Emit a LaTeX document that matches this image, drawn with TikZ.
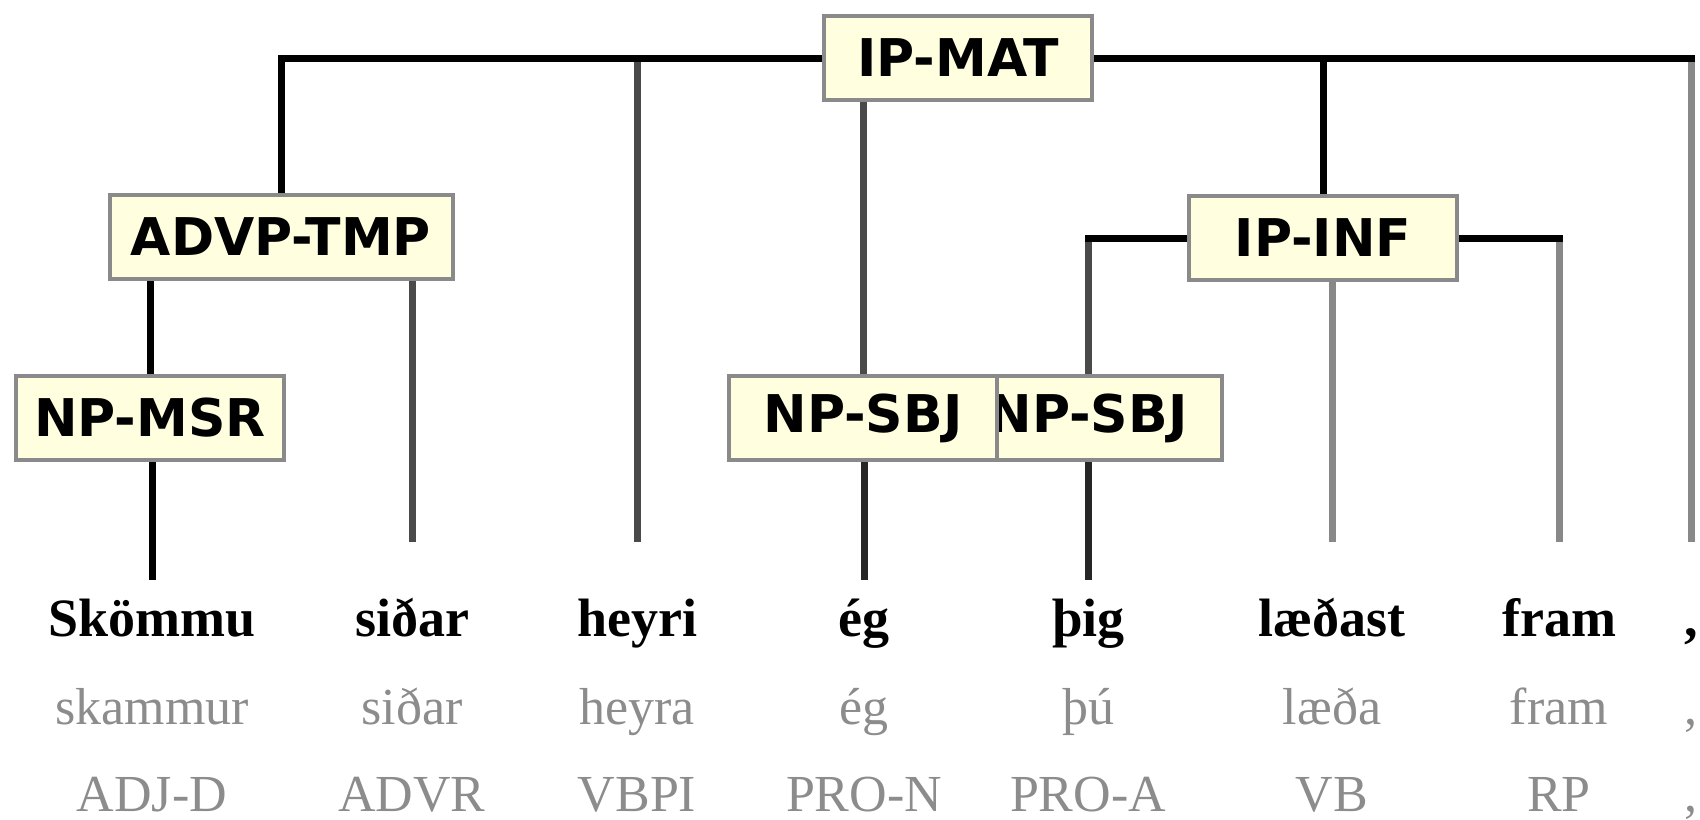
\documentclass[tikz,border=0pt]{standalone}
\usepackage{fontspec}
\setmainfont{Liberation Serif}
\newfontfamily\labelfont{DejaVu Sans}
\usetikzlibrary{backgrounds}
\definecolor{boxfill}{HTML}{FFFFE0}
\definecolor{boxedge}{HTML}{8A8A8A}
\definecolor{linedark}{HTML}{4A4A4A}
\definecolor{linemid}{HTML}{888888}
\definecolor{glossgray}{HTML}{8C8C8C}

\begin{document}
\begin{tikzpicture}[x=0.5pt,y=-0.5pt,
  cat/.style={draw=boxedge, line width=2pt, fill=boxfill, inner sep=0pt,
    minimum width=134pt, minimum height=42pt,
    font=\labelfont\bfseries\fontsize{26}{30}\selectfont},
  word/.style={anchor=base, inner sep=0pt, font=\bfseries\fontsize{27}{32}\selectfont},
  gloss/.style={anchor=base, inner sep=0pt, text=glossgray, font=\fontsize{26}{30}\selectfont},
  branch/.style={line width=3.5pt, line join=miter},
  bar/.style={line width=3.5pt, line cap=rect, black}
]
\useasboundingbox (0,0) rectangle (1700,819);

% phrase boxes (the first NP-SBJ overlaps the second)
\node[cat] (ipmat) at (958,58) {IP-MAT};
\node[cat, minimum width=171.5pt] (advp) at (281,237) {ADVP-TMP};
\node[cat] (ipinf) at (1323,238) {IP-INF};
\node[cat] (msr) at (150,418) {NP-MSR};
\node[cat] (sbj2) at (1088,418) {NP-SBJ};
\node[cat] (sbj1) at (863,418) {NP-SBJ};

% terminal words
\node[word] (w1) at (152,636) {Skömmu};
\node[word] (w2) at (412,636) {siðar};
\node[word] (w3) at (637,636) {heyri};
\node[word] (w4) at (864,636) {ég};
\node[word] (w5) at (1088,636) {þig};
\node[word] (w6) at (1332,636) {læðast};
\node[word] (w7) at (1559,636) {fram};
\node[word] (w8) at (1691,636) {,};

% lemmas
\node[gloss] (l1) at (152,724) {skammur};
\node[gloss] (l2) at (412,724) {siðar};
\node[gloss] (l3) at (637,724) {heyra};
\node[gloss] (l4) at (864,724) {ég};
\node[gloss] (l5) at (1088,724) {þú};
\node[gloss] (l6) at (1332,724) {læða};
\node[gloss] (l7) at (1559,724) {fram};
\node[gloss] (l8) at (1691,724) {,};

% part-of-speech tags
\node[gloss] (p1) at (152,811) {ADJ-D};
\node[gloss] (p2) at (412,811) {ADVR};
\node[gloss] (p3) at (637,811) {VBPI};
\node[gloss] (p4) at (864,811) {PRO-N};
\node[gloss] (p5) at (1088,811) {PRO-A};
\node[gloss] (p6) at (1332,811) {VB};
\node[gloss] (p7) at (1559,811) {RP};
\node[gloss] (p8) at (1691,811) {,};

% lower ends of the branches
\coordinate (e1) at (152,580);
\coordinate (e2) at (412,542);
\coordinate (e3) at (637,542);
\coordinate (e4) at (864,580);
\coordinate (e5) at (1088,580);
\coordinate (e6) at (1332,542);
\coordinate (e7) at (1559,542);
\coordinate (e8) at (1691,542);

\begin{scope}[on background layer]
  % IP-MAT
  \draw[branch, linedark] (ipmat) -| (e3);
  \draw[branch, linemid] (ipmat) -| (e8);
  \draw[branch, linedark] (ipmat.south -| sbj1.north) -- (sbj1.north);
  \draw[branch, black] (ipmat) -| (advp.north);
  \draw[branch, black] (ipmat) -| (ipinf.north);
  \draw[bar] (advp.north |- ipmat) -- (e8 |- ipmat);
  % ADVP-TMP
  \draw[branch, black] (advp.south -| msr.north) -- (msr.north);
  \draw[branch, linedark] (advp.south -| e2) -- (e2);
  \draw[branch, black] (msr.south -| e1) -- (e1);
  % IP-INF
  \draw[branch, linedark] (ipinf) -| (sbj2.north);
  \draw[branch, linemid] (ipinf.south -| e6) -- (e6);
  \draw[branch, linemid] (ipinf) -| (e7);
  \draw[bar] (sbj2.north |- ipinf) -- (e7 |- ipinf);
  % subjects
  \draw[branch, black!85] (sbj1.south -| e4) -- (e4);
  \draw[branch, black!85] (sbj2.south -| e5) -- (e5);
\end{scope}
\end{tikzpicture}
\end{document}
